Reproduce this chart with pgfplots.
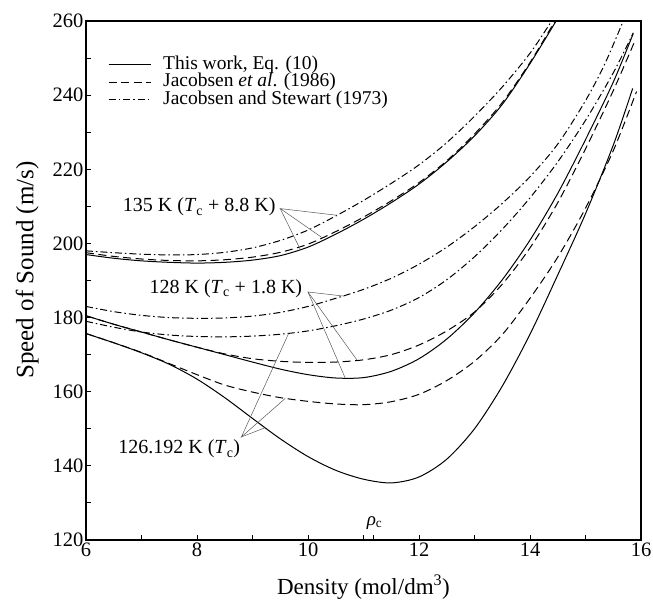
\documentclass[border=0pt]{standalone}
\usepackage{fontspec}
\setmainfont{Liberation Serif}
\usepackage{pgfplots}
\pgfplotsset{compat=1.18}

\pgfplotsset{
  thiswork/.style={black, line width=1pt, solid, smooth},
  jac86/.style={black, line width=1pt, dash pattern=on 8pt off 4.5pt, smooth},
  js73/.style={black, line width=1pt, dash pattern=on 7pt off 3pt on 1.5pt off 3pt, smooth},
}
\tikzset{pointer/.style={black!65, line width=0.5pt}}

\begin{document}
\begin{tikzpicture}
\useasboundingbox (-86pt,-60pt) rectangle (567pt,540pt);
\begin{axis}[
  at={(0,0)}, anchor=south west,
  width=555pt, height=519pt, scale only axis,
  xmin=6, xmax=16, ymin=120, ymax=260,
  xtick={6,8,...,16}, minor xtick={7,9,...,15},
  ytick={120,140,...,260}, minor ytick={130,150,...,250},
  extra x ticks={11.18}, extra x tick labels={},
  tick pos=left, tick align=inside,
  major tick length=5.5pt, minor tick length=5.5pt,
  every tick/.style={black, line width=0.9pt},
  axis line style={line width=1.2pt},
  tick label style={font=\fontsize{20.5}{20.5}\selectfont, inner sep=2.5pt},
  /pgf/number format/assume math mode=true,
  xlabel={Density (mol/dm\textsuperscript{3})},
  ylabel={Speed of Sound (m/s)},
  xlabel style={font=\fontsize{23}{23}\selectfont,
    at={(axis description cs:0.5,-0.0906)}, anchor=center},
  ylabel style={font=\fontsize{25}{25}\selectfont,
    at={(axis description cs:-0.106,0.52)}, anchor=center},
  legend cell align=left,
  legend image code/.code={\draw[#1] (0pt,0pt) -- (42pt,0pt);},
  legend style={at={(axis cs:6.396,250.6)}, anchor=north west, draw=none, fill=none,
    inner sep=0pt, row sep=0.5pt, column sep=12pt,
    font=\fontsize{19.5}{19.5}\selectfont,
    nodes={inner sep=0pt, text height=13pt, text depth=4pt}},
]

% ---- 135 K ----
\addplot[thiswork] coordinates {
(6,197.0) (6.5,196.0) (7,195.3) (7.5,194.9) (8,194.7) (8.5,194.9) (9,195.5)
(9.5,196.7) (10,199.0) (10.5,202.5) (11,206.5) (11.5,211.0) (12,216.0)
(12.5,222.0) (13,229.0) (13.5,237.5) (14,248.5) (14.47,260)
};
\addlegendentry{This work, Eq. (10)}
\addplot[jac86] coordinates {
(6,197.5) (6.5,196.5) (7,195.8) (7.5,195.4) (8,195.3) (8.5,195.6) (9,196.3)
(9.5,197.6) (10,199.8) (10.5,203.2) (11,207.1) (11.5,211.5) (12,216.4)
(12.5,222.3) (13,229.5) (13.5,238.0) (14,248.8) (14.45,260)
};
\addlegendentry{Jacobsen \textit{et al}. (1986)}
\addplot[js73] coordinates {
(6,198.0) (6.5,197.5) (7,197.1) (7.5,196.9) (8,197.0) (8.5,197.6) (9,198.8)
(9.5,200.8) (10,203.6) (10.5,207.4) (11,211.6) (11.5,216.2) (12,221.2)
(12.5,227.2) (13,234.3) (13.5,242.2) (14,251.3) (14.39,260)
};
\addlegendentry{Jacobsen and Stewart (1973)}

% ---- 128 K ----
\addplot[thiswork, forget plot] coordinates {
(6,180.5) (6.5,178.2) (7,176.1) (7.5,174.0) (8,172.0) (8.5,170.0) (9,168.0)
(9.5,166.1) (10,164.6) (10.5,163.7) (11,163.8) (11.5,165.5) (12,168.9)
(12.5,174.2) (13,181.3) (13.5,190.2) (14,200.9) (14.5,213.5) (15,228.0)
(15.5,243.5) (15.86,256.6)
};
\addplot[jac86, forget plot] coordinates {
(6,180.5) (6.5,178.2) (7,176.1) (7.5,174.0) (8,172.0) (8.5,170.2) (9,168.9)
(9.5,168.2) (10,167.9) (10.5,168.0) (11,168.6) (11.5,170.0) (12,172.6)
(12.5,176.4) (13,181.5) (13.5,189.0) (14,198.8) (14.5,211.0) (15,225.5)
(15.5,241.2) (15.9,255.0)
};
\addplot[js73, forget plot] coordinates {
(6,183.0) (6.5,181.6) (7,180.6) (7.5,180.0) (8,179.8) (8.5,179.9) (9,180.4)
(9.5,181.4) (10,183.0) (10.5,185.2) (11,187.6) (11.5,190.6) (12,194.4)
(12.5,199.0) (13,204.5) (13.5,210.8) (14,218.0) (14.5,226.8) (15,238.5)
(15.35,248.5) (15.68,260)
};

% ---- 126.192 K ----
\addplot[thiswork, forget plot] coordinates {
(6,175.7) (6.5,173.2) (7,170.5) (7.5,167.4) (8,163.4) (8.5,158.4) (9,152.8)
(9.5,147.3) (10,142.5) (10.5,138.8) (11,136.4) (11.5,135.4) (12,137.0)
(12.5,141.8) (13,150.0) (13.5,161.5) (14,175.5) (14.5,191.5) (15,208.0)
(15.5,226.5) (15.85,241.8)
};
\addplot[jac86, forget plot] coordinates {
(6,175.7) (6.5,173.2) (7,170.6) (7.5,167.6) (8,164.6) (8.5,161.8) (9,159.9)
(9.5,158.4) (10,157.4) (10.5,156.7) (11,156.5) (11.5,157.3) (12,159.3)
(12.5,163.0) (13,168.2) (13.5,175.4) (14,185.2) (14.5,196.3) (15,209.5)
(15.5,225.0) (15.92,241.0)
};
\addplot[js73, forget plot] coordinates {
(6,179.0) (6.5,177.4) (7,176.1) (7.5,175.3) (8,174.9) (8.5,174.8) (9,175.0)
(9.5,175.5) (10,176.4) (10.5,177.8) (11,179.6) (11.5,182.0) (12,185.4)
(12.5,190.2) (13,196.4) (13.5,203.8) (14,212.3) (14.5,222.0) (15,233.2)
(15.5,246.0) (15.86,256.8)
};

% ---- labels and pointers ----
\begin{scope}[font=\fontsize{20}{20}\selectfont]
\node at (axis cs:8.04,209.8) {135 K (\textit{T}\textsubscript{c} + 8.8 K)};
\node at (axis cs:8.52,187.8) {128 K (\textit{T}\textsubscript{c} + 1.8 K)};
\node at (axis cs:7.68,144.5) {126.192 K (\textit{T}\textsubscript{c})};
\end{scope}
\draw[pointer] (axis cs:10.52,207.6) -- (axis cs:9.50,209.4) -- (axis cs:10.25,201.6);
\draw[pointer] (axis cs:9.50,209.4) -- (axis cs:9.86,198.4);
\draw[pointer] (axis cs:10.64,185.8) -- (axis cs:10.0,186.9) -- (axis cs:10.88,168.6);
\draw[pointer] (axis cs:10.0,186.9) -- (axis cs:10.67,163.7);
\draw[pointer] (axis cs:9.65,175.7) -- (axis cs:8.80,147.8) -- (axis cs:9.59,158.2);
\draw[pointer] (axis cs:8.80,147.8) -- (axis cs:9.23,150.3);
\node[anchor=base, font=\fontsize{19}{19}\selectfont] at (axis cs:11.2,124.0) {\textit{ρ}\textsubscript{c}};

\end{axis}
\end{tikzpicture}
\end{document}
